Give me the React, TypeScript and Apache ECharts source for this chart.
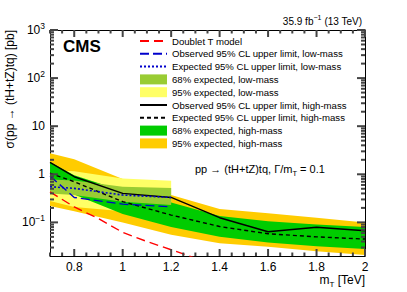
import React, { useEffect, useRef } from 'react';
import * as echarts from 'echarts';

// ---- data ----
const massHigh = [0.7, 0.8, 1.0, 1.2, 1.4, 1.6, 1.8, 2.0];
const obsHigh = [1.77, 0.89, 0.40, 0.33, 0.125, 0.064, 0.079, 0.067];
const expHigh = [1.05, 0.70, 0.27, 0.142, 0.082, 0.058, 0.050, 0.045];
const band68HighUp = [1.8, 0.95, 0.45, 0.26, 0.135, 0.105, 0.090, 0.080];
const band68HighLo = [0.60, 0.38, 0.15, 0.080, 0.050, 0.038, 0.032, 0.028];
const band95HighUp = [2.75, 2.05, 0.80, 0.37, 0.19, 0.155, 0.125, 0.10];
const band95HighLo = [0.22, 0.17, 0.10, 0.055, 0.037, 0.031, 0.025, 0.021];

const massLow = [0.7, 0.8, 1.0, 1.2];
const obsLow = [0.92, 0.33, 0.24, 0.21];
const expLow = [0.55, 0.51, 0.37, 0.33];
const band68LowUp = [0.78, 0.74, 0.55, 0.52];
const band68LowLo = [0.40, 0.37, 0.27, 0.23];
const band95LowUp = [1.22, 1.15, 0.82, 0.73];
const band95LowLo = [0.28, 0.21, 0.17, 0.16];

const massModel = [0.7, 0.8, 0.9, 1.0, 1.1, 1.2, 1.3];
const xsecModel = [0.43, 0.21, 0.12, 0.062, 0.040, 0.027, 0.018];

const xMajorTicks = [0.8, 1.0, 1.2, 1.4, 1.6, 1.8, 2.0];
const xMinorTicks = [0.7, 0.75, 0.85, 0.9, 0.95, 1.05, 1.1, 1.15, 1.25, 1.3, 1.35, 1.45, 1.5, 1.55, 1.65, 1.7, 1.75, 1.85, 1.9, 1.95];
const yMajorTicks = [0.1, 1, 10, 100, 1000];
const yMinorTicks = [
  0.03, 0.04, 0.05, 0.06, 0.07, 0.08, 0.09,
  0.2, 0.3, 0.4, 0.5, 0.6, 0.7, 0.8, 0.9,
  2, 3, 4, 5, 6, 7, 8, 9,
  20, 30, 40, 50, 60, 70, 80, 90,
  200, 300, 400, 500, 600, 700, 800, 900,
];

const FONT = "'Liberation Sans', Arial, Helvetica, sans-serif";
const TICK_COLOR = '#444';

const names = {
  model: 'Doublet T model',
  obsLow: 'Observed 95% CL upper limit, low-mass',
  expLow: 'Expected 95% CL upper limit, low-mass',
  b68Low: '68% expected, low-mass',
  b95Low: '95% expected, low-mass',
  obsHigh: 'Observed 95% CL upper limit, high-mass',
  expHigh: 'Expected 95% CL upper limit, high-mass',
  b68High: '68% expected, high-mass',
  b95High: '95% expected, high-mass',
};

function band(name: string, color: string, xs: number[], lo: number[], hi: number[], z: number) {
  return {
    type: 'custom',
    name,
    z,
    silent: true,
    clip: true,
    itemStyle: { color },
    data: xs.map((x, i) => [x, lo[i], hi[i]]),
    encode: { x: 0, y: [1, 2] },
    renderItem: (params: any, api: any) => {
      if (params.dataIndex !== 0) return null;
      const pts: number[][] = [];
      for (let i = 0; i < xs.length; i++) pts.push(api.coord([xs[i], hi[i]]));
      for (let i = xs.length - 1; i >= 0; i--) pts.push(api.coord([xs[i], lo[i]]));
      return { type: 'polygon', shape: { points: pts }, style: { fill: color, stroke: null } };
    },
  };
}

function line(name: string, xs: number[], ys: number[], color: string, type: any, width: number, z: number) {
  return {
    type: 'line',
    name,
    z,
    symbol: 'none',
    showSymbol: false,
    silent: true,
    clip: true,
    data: xs.map((x, i) => [x, ys[i]]),
    lineStyle: { color, type, width },
    itemStyle: { color },
  };
}

// inward tick marks; side: 'bottom' | 'top' | 'left' | 'right'
function ticks(values: number[], side: string, len: number) {
  const isX = side === 'bottom' || side === 'top';
  return {
    type: 'custom', silent: true, z: 30, clip: false,
    data: values.map((v) => (isX ? [v, 1] : [1, v])),
    encode: { x: 0, y: 1 },
    renderItem: (params: any, api: any) => {
      const cs = params.coordSys;
      const p = api.coord([api.value(0), api.value(1)]);
      let shape;
      if (side === 'bottom') shape = { x1: p[0], y1: cs.y + cs.height, x2: p[0], y2: cs.y + cs.height - len };
      else if (side === 'top') shape = { x1: p[0], y1: cs.y, x2: p[0], y2: cs.y + len };
      else if (side === 'left') shape = { x1: cs.x, y1: p[1], x2: cs.x + len, y2: p[1] };
      else shape = { x1: cs.x + cs.width, y1: p[1], x2: cs.x + cs.width - len, y2: p[1] };
      return { type: 'line', shape, style: { stroke: TICK_COLOR, lineWidth: 2 } };
    },
  };
}

const yFmt = (v: number) => {
  const e = Math.round(Math.log10(v));
  if (e === 0) return '{b|1}';
  if (e === 1) return '{b|10}';
  return '{b|10}{s|' + (e < 0 ? '\u2212' + -e : String(e)) + '}';
};

export default function App() {
  const ref = useRef<HTMLDivElement>(null);
  useEffect(() => {
    document.body.style.margin = '0';
    const chart = echarts.init(ref.current!, null, { renderer: 'svg' });
    const axisLineStyle = { color: '#000', width: 1 };
    const option: any = {
      animation: false,
      grid: { left: 50, top: 30, right: 42, bottom: 36, containLabel: false },
      xAxis: [
        {
          type: 'value', min: 0.7, max: 2.0, position: 'bottom', splitLine: { show: false },
          axisLine: { show: true, lineStyle: axisLineStyle }, axisTick: { show: false },
          axisLabel: {
            customValues: xMajorTicks, color: '#000', fontSize: 12, fontFamily: FONT, margin: 5,
            formatter: (v: number) => (Math.abs(v - Math.round(v)) < 1e-9 ? String(Math.round(v)) : v.toFixed(1)),
          },
        },
        {
          type: 'value', min: 0.7, max: 2.0, position: 'top', splitLine: { show: false },
          axisLine: { show: true, lineStyle: axisLineStyle }, axisTick: { show: false }, axisLabel: { show: false },
        },
      ],
      yAxis: [
        {
          type: 'log', logBase: 10, min: 0.02, max: 1000, position: 'left', splitLine: { show: false },
          axisLine: { show: true, lineStyle: axisLineStyle }, axisTick: { show: false },
          axisLabel: {
            customValues: yMajorTicks, margin: 5, formatter: yFmt,
            rich: {
              b: { fontSize: 12, fontFamily: FONT, color: '#000', lineHeight: 18 },
              s: { fontSize: 8.5, fontFamily: FONT, color: '#000', lineHeight: 10, verticalAlign: 'top' },
            },
          },
        },
        {
          type: 'log', logBase: 10, min: 0.02, max: 1000, position: 'right', splitLine: { show: false },
          axisLine: { show: true, lineStyle: axisLineStyle }, axisTick: { show: false }, axisLabel: { show: false },
        },
      ],
      legend: {
        orient: 'vertical', left: 139, top: 36, padding: 0,
        itemWidth: 27, itemHeight: 10, itemGap: 2.8,
        selectedMode: false,
        textStyle: { fontSize: 9.6, fontFamily: FONT, color: '#000', lineHeight: 10 },
        data: [
          { name: names.model, itemStyle: { opacity: 0 } },
          { name: names.obsLow, itemStyle: { opacity: 0 } },
          { name: names.expLow, itemStyle: { opacity: 0 } },
          { name: names.b68Low, icon: 'rect' },
          { name: names.b95Low, icon: 'rect' },
          { name: names.obsHigh, itemStyle: { opacity: 0 } },
          { name: names.expHigh, itemStyle: { opacity: 0 } },
          { name: names.b68High, icon: 'rect' },
          { name: names.b95High, icon: 'rect' },
        ],
      },
      series: [
        band(names.b95High, '#ffcc00', massHigh, band95HighLo, band95HighUp, 1),
        band(names.b95Low, '#ffff66', massLow, band95LowLo, band95LowUp, 2),
        band(names.b68High, '#00cc00', massHigh, band68HighLo, band68HighUp, 3),
        band(names.b68Low, '#99cc33', massLow, band68LowLo, band68LowUp, 4),
        line(names.model, massModel, xsecModel, '#ff0000', [9, 5], 1.4, 10),
        line(names.expHigh, massHigh, expHigh, '#000000', [4, 3], 1.4, 11),
        line(names.obsHigh, massHigh, obsHigh, '#000000', 'solid', 1.4, 12),
        line(names.expLow, massLow, expLow, '#0000cc', [2, 2], 1.6, 13),
        line(names.obsLow, massLow, obsLow, '#0000cc', [9, 4], 1.4, 14),
        ticks(xMajorTicks, 'bottom', 7),
        ticks(xMinorTicks, 'bottom', 3.5),
        ticks(xMajorTicks, 'top', 7),
        ticks(xMinorTicks, 'top', 3.5),
        ticks(yMajorTicks, 'left', 8),
        ticks(yMinorTicks, 'left', 4),
        ticks(yMajorTicks, 'right', 8),
        ticks(yMinorTicks, 'right', 4),
      ],
      graphic: [
        { type: 'text', x: 63, y: 46, style: { text: 'CMS', fontSize: 17, fontWeight: 'bold', fontFamily: FONT, fill: '#000', align: 'left', verticalAlign: 'middle' } },
        {
          type: 'text', x: 362, y: 21,
          style: {
            text: '35.9 fb{s|\u22121} (13 TeV)', fontSize: 10, fontFamily: FONT, fill: '#000', align: 'right', verticalAlign: 'middle', lineHeight: 14,
            rich: { s: { fontSize: 7, fontFamily: FONT, fill: '#000', lineHeight: 8, verticalAlign: 'top' } },
          },
        },
        {
          type: 'text', x: 195, y: 169,
          style: {
            text: 'pp \u2192 (tH+tZ)tq, \u0393/m{t|T} = 0.1', fontSize: 11, fontFamily: FONT, fill: '#000', align: 'left', verticalAlign: 'middle', lineHeight: 16,
            rich: { t: { fontSize: 7.5, fontFamily: FONT, fill: '#000', lineHeight: 10, verticalAlign: 'bottom' } },
          },
        },
        {
          type: 'text', x: 10, y: 30, rotation: Math.PI / 2,
          style: { text: '\u03c3(pp \u2192 (tH+tZ)tq) [pb]', fontSize: 12, fontFamily: FONT, fill: '#000', align: 'right', verticalAlign: 'middle' },
        },
        {
          type: 'text', x: 365, y: 280,
          style: {
            text: 'm{t|T} [TeV]', fontSize: 12, fontFamily: FONT, fill: '#000', align: 'right', verticalAlign: 'middle', lineHeight: 16,
            rich: { t: { fontSize: 8, fontFamily: FONT, fill: '#000', lineHeight: 10, verticalAlign: 'bottom' } },
          },
        },
      ],
    };
    chart.setOption(option);
    return () => chart.dispose();
  }, []);
  return <div ref={ref} style={{ width: 407, height: 292 }} />;
}
